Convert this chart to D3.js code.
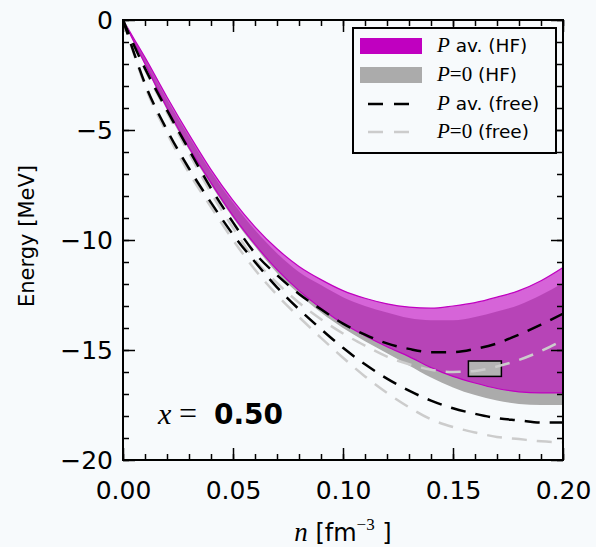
<!DOCTYPE html>
<html lang="en">
<head>
    <meta charset="UTF-8">
    <title>Energy vs density</title>
    <style>
        body{
            margin:0;
            background-color:#f7fafc;
        }
        svg{
            display:block;
        }
        .tick text{
            font-family:"DejaVu Sans", sans-serif;
        }
    </style>
    <script src="https://cdn.jsdelivr.net/npm/d3@7/dist/d3.min.js"></script>
</head>
<body>
<div id="container"></div>
</body>
<script>

var w = 596;
var h = 547;

// density grid [fm^-3]
var density = [0, 0.005, 0.01, 0.02, 0.03, 0.04, 0.05, 0.06, 0.07, 0.08, 0.09, 0.10,
    0.11, 0.12, 0.13, 0.14, 0.15, 0.16, 0.17, 0.18, 0.19, 0.20];

// P av. (HF) band
var hfAvUpper = [0, -0.85, -1.7, -3.5, -5.2, -6.8, -8.2, -9.4, -10.4, -11.2, -11.8, -12.3,
    -12.65, -12.9, -13.05, -13.1, -13.0, -12.85, -12.6, -12.3, -11.85, -11.25];
var hfAvLower = [0, -1.0, -2.0, -4.0, -5.8, -7.4, -8.9, -10.2, -11.35, -12.3, -13.1, -13.8,
    -14.35, -14.85, -15.3, -15.8, -16.2, -16.5, -16.75, -16.9, -16.95, -16.95];

// P=0 (HF) band
var hf0Upper = [0, -0.87, -1.75, -3.6, -5.3, -6.9, -8.3, -9.55, -10.6, -11.45, -12.05, -12.6,
    -13.0, -13.3, -13.55, -13.65, -13.65, -13.5, -13.25, -12.95, -12.5, -11.95];
var hf0Lower = [0, -1.02, -2.05, -4.1, -5.9, -7.5, -9.0, -10.3, -11.5, -12.45, -13.3, -14.0,
    -14.6, -15.15, -15.7, -16.25, -16.7, -17.05, -17.3, -17.45, -17.5, -17.5];

// P av. (free) pair
var freeAvUpper = [0, -1.15, -2.2, -4.1, -5.9, -7.65, -9.2, -10.6, -11.6, -12.45, -13.15, -13.8,
    -14.3, -14.7, -14.95, -15.1, -15.1, -14.95, -14.7, -14.3, -13.85, -13.35];
var freeAvLower = [0, -1.5, -2.9, -5.0, -6.75, -8.3, -9.75, -11.0, -12.15, -13.15, -14.05, -14.9,
    -15.65, -16.3, -16.85, -17.3, -17.65, -17.9, -18.1, -18.2, -18.3, -18.3];

// P=0 (free) pair
var free0Upper = [0, -1.17, -2.25, -4.2, -6.05, -7.85, -9.45, -10.9, -11.95, -12.85, -13.6, -14.25,
    -14.8, -15.3, -15.65, -15.9, -16.0, -15.95, -15.75, -15.45, -15.05, -14.55];
var free0Lower = [0, -1.55, -3.0, -5.15, -6.95, -8.5, -10.0, -11.35, -12.5, -13.5, -14.45, -15.35,
    -16.2, -16.95, -17.6, -18.15, -18.5, -18.75, -18.95, -19.05, -19.15, -19.2];

// empirical saturation box
var satDensity = [0.157, 0.172];
var satEnergy = [-16.2, -15.5];

var xTicks = [0, 0.05, 0.10, 0.15, 0.20];
var yTicks = [0, -5, -10, -15, -20];

var legendLabels = ["av. (HF)", "(HF)", "av. (free)", "(free)"];

var xScale = d3.scaleLinear().domain([0, 0.2]).range([123, 563]);
var yScale = d3.scaleLinear().domain([-20, 0]).range([460, 20]);

var svg = d3.select("#container")
        .append("svg")
        .attr("width", w)
        .attr("height", h);

svg.append("rect")
        .attr("width", w)
        .attr("height", h)
        .attr("fill", "#f7fafc");

svg.append("clipPath")
        .attr("id", "plotclip")
        .append("rect")
        .attr("x", xScale(0))
        .attr("y", yScale(0))
        .attr("width", xScale(0.2) - xScale(0))
        .attr("height", yScale(-20) - yScale(0));

var plot = svg.append("g").attr("clip-path", "url(#plotclip)");

function band(lo, hi) {
    return d3.area()
            .x(function(d, i) { return xScale(density[i]); })
            .y0(function(d, i) { return yScale(lo[i]); })
            .y1(function(d, i) { return yScale(hi[i]); })
            .curve(d3.curveMonotoneX)(density);
}

function curve(vals) {
    return d3.line()
            .x(function(d, i) { return xScale(density[i]); })
            .y(function(d, i) { return yScale(vals[i]); })
            .curve(d3.curveMonotoneX)(density);
}

//P=0 (HF) gray band
plot.append("path")
        .attr("d", band(hf0Lower, hf0Upper))
        .attr("fill", "#ababab");

//P av. (HF) magenta band on top, semi transparent
plot.append("path")
        .attr("d", band(hfAvLower, hfAvUpper))
        .attr("fill", "#c000c0")
        .attr("fill-opacity", 0.6);

[hfAvUpper, hfAvLower].forEach(function(v) {
    plot.append("path")
            .attr("d", curve(v))
            .attr("fill", "none")
            .attr("stroke", "#c000c0")
            .attr("stroke-width", 1.2);
});

//saturation box
plot.append("rect")
        .attr("x", xScale(satDensity[0]))
        .attr("y", yScale(satEnergy[1]))
        .attr("width", xScale(satDensity[1]) - xScale(satDensity[0]))
        .attr("height", yScale(satEnergy[0]) - yScale(satEnergy[1]))
        .attr("fill", "#b3b3b3")
        .attr("stroke", "black")
        .attr("stroke-width", 1.5);

//free curves
[free0Upper, free0Lower].forEach(function(v) {
    plot.append("path")
            .attr("d", curve(v))
            .attr("fill", "none")
            .attr("stroke", "#cccccc")
            .attr("stroke-width", 2.5)
            .attr("stroke-dasharray", "15,10");
});
[freeAvUpper, freeAvLower].forEach(function(v) {
    plot.append("path")
            .attr("d", curve(v))
            .attr("fill", "none")
            .attr("stroke", "black")
            .attr("stroke-width", 2.5)
            .attr("stroke-dasharray", "15,10");
});

//axes: major + minor ticks on all four sides, pointing inward
var minorX = d3.range(0, 21).map(function(i) { return i / 100; });
var minorY = d3.range(0, 21).map(function(i) { return -i; });
var fmtX = d3.format(".2f");

function styleAxis(g) {
    g.select(".domain").remove();
    g.selectAll(".tick line").attr("stroke-width", 1.5);
    g.selectAll(".tick text").attr("font-size", "25px").attr("fill", "black");
}

svg.append("g")
        .attr("transform", "translate(0," + yScale(-20) + ")")
        .call(d3.axisBottom(xScale).tickValues(minorX).tickSize(-6).tickFormat(""))
        .call(styleAxis);
svg.append("g")
        .attr("transform", "translate(0," + yScale(-20) + ")")
        .call(d3.axisBottom(xScale).tickValues(xTicks).tickSize(-12).tickPadding(21).tickFormat(fmtX))
        .call(styleAxis);
svg.append("g")
        .attr("transform", "translate(0," + yScale(0) + ")")
        .call(d3.axisTop(xScale).tickValues(minorX).tickSize(-6).tickFormat(""))
        .call(styleAxis);
svg.append("g")
        .attr("transform", "translate(0," + yScale(0) + ")")
        .call(d3.axisTop(xScale).tickValues(xTicks).tickSize(-12).tickFormat(""))
        .call(styleAxis);

svg.append("g")
        .attr("transform", "translate(" + xScale(0) + ",0)")
        .call(d3.axisLeft(yScale).tickValues(minorY).tickSize(-6).tickFormat(""))
        .call(styleAxis);
svg.append("g")
        .attr("transform", "translate(" + xScale(0) + ",0)")
        .call(d3.axisLeft(yScale).tickValues(yTicks).tickSize(-12).tickPadding(10))
        .call(styleAxis);
svg.append("g")
        .attr("transform", "translate(" + xScale(0.2) + ",0)")
        .call(d3.axisRight(yScale).tickValues(minorY).tickSize(-6).tickFormat(""))
        .call(styleAxis);
svg.append("g")
        .attr("transform", "translate(" + xScale(0.2) + ",0)")
        .call(d3.axisRight(yScale).tickValues(yTicks).tickSize(-12).tickFormat(""))
        .call(styleAxis);

//frame
svg.append("rect")
        .attr("x", xScale(0))
        .attr("y", yScale(0))
        .attr("width", xScale(0.2) - xScale(0))
        .attr("height", yScale(-20) - yScale(0))
        .attr("fill", "none")
        .attr("stroke", "black")
        .attr("stroke-width", 2);

//axis labels
svg.append("text")
        .attr("transform", "translate(34,236) rotate(-90)")
        .attr("text-anchor", "middle")
        .attr("font-family", "DejaVu Sans, sans-serif")
        .attr("font-size", "21px")
        .text("Energy [MeV]");

var xlab = svg.append("text")
        .attr("x", (xScale(0) + xScale(0.2)) / 2)
        .attr("y", 541)
        .attr("text-anchor", "middle")
        .attr("font-family", "DejaVu Sans, sans-serif")
        .attr("font-size", "24px");
xlab.append("tspan").attr("font-family", "Liberation Serif, serif").attr("font-style", "italic")
        .attr("font-size", "27px").text("n");
xlab.append("tspan").text(" [fm");
xlab.append("tspan").attr("font-family", "Liberation Serif, serif").attr("font-size", "17px")
        .attr("dy", -11).text("\u22123");
xlab.append("tspan").attr("dy", 11).text(" ]");

//x = 0.50 annotation
var ann = svg.append("text")
        .attr("x", 158)
        .attr("y", 424);
ann.append("tspan").attr("font-family", "Liberation Serif, serif").attr("font-style", "italic")
        .attr("font-size", "30px").text("x");
ann.append("tspan").attr("x", 179).attr("font-family", "Liberation Serif, serif")
        .attr("font-size", "32px").text("=");
ann.append("tspan").attr("x", 214).attr("font-family", "DejaVu Sans, sans-serif")
        .attr("font-weight", "bold").attr("font-size", "28px").text("0.50");

//legend
var legend = svg.append("g");
legend.append("rect")
        .attr("x", 353)
        .attr("y", 28)
        .attr("width", 203)
        .attr("height", 125)
        .attr("fill", "#f7fafc")
        .attr("stroke", "black")
        .attr("stroke-width", 2);

var rowY = [46, 75, 104, 132];
legend.append("rect").attr("x", 360).attr("y", rowY[0] - 8).attr("width", 62).attr("height", 16)
        .attr("fill", "#c000c0");
legend.append("rect").attr("x", 360).attr("y", rowY[1] - 8).attr("width", 62).attr("height", 16)
        .attr("fill", "#ababab");
legend.append("line").attr("x1", 368).attr("x2", 412).attr("y1", rowY[2]).attr("y2", rowY[2])
        .attr("stroke", "black").attr("stroke-width", 2.5).attr("stroke-dasharray", "15,11");
legend.append("line").attr("x1", 368).attr("x2", 412).attr("y1", rowY[3]).attr("y2", rowY[3])
        .attr("stroke", "#cccccc").attr("stroke-width", 2.5).attr("stroke-dasharray", "15,11");

legendLabels.forEach(function(lab, i) {
    var t = legend.append("text")
            .attr("x", 437)
            .attr("y", rowY[i] + 6)
            .attr("font-family", "DejaVu Sans, sans-serif")
            .attr("font-size", "18.5px");
    t.append("tspan").attr("font-family", "Liberation Serif, serif").attr("font-style", "italic")
            .attr("font-size", "21px").text("P");
    if (i % 2 === 1) {
        t.append("tspan").attr("font-family", "Liberation Serif, serif")
                .attr("font-size", "21px").text("=0");
    }
    t.append("tspan").text(" " + lab);
});

</script>
</html>
